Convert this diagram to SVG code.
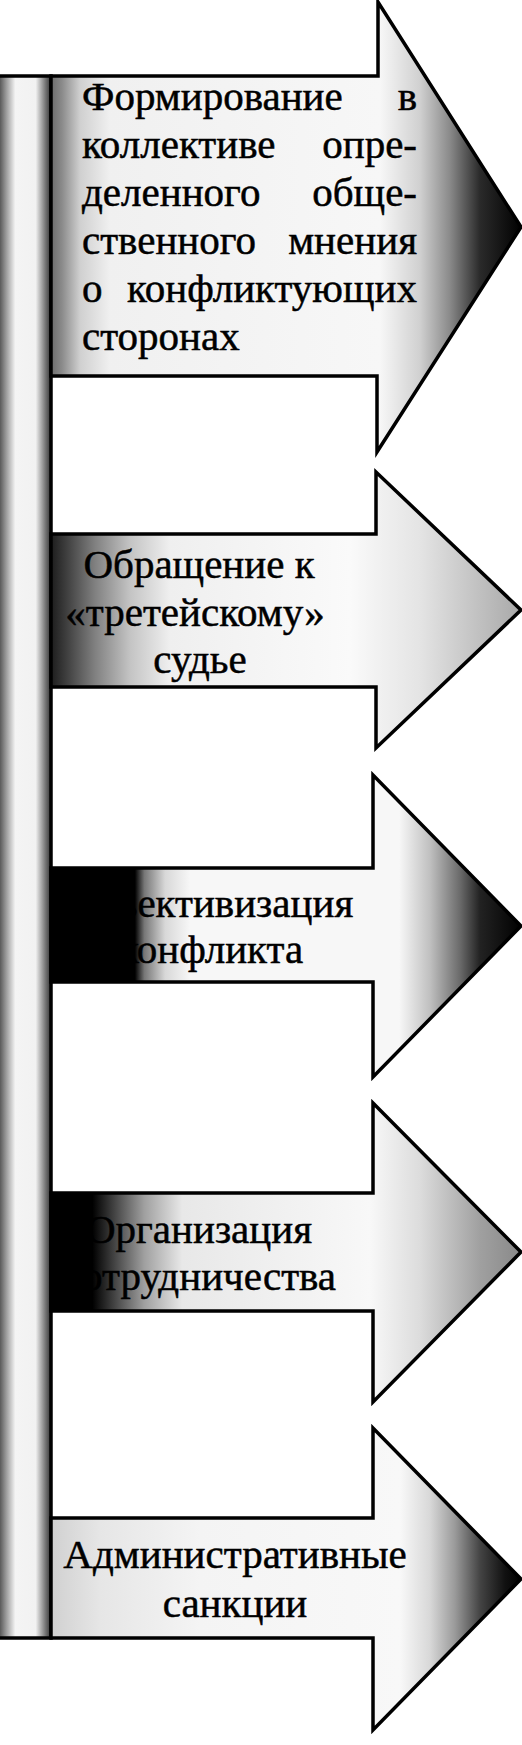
<svg xmlns="http://www.w3.org/2000/svg" width="522" height="1745" viewBox="0 0 522 1745">
<style>
.arrow{stroke:#000;stroke-width:3.5;stroke-linejoin:miter}
.bar{stroke:#000;stroke-width:3.5}
.t{font-family:"Liberation Serif","Times New Roman",serif;font-size:41px;fill:#000;stroke:#000;stroke-width:0.5}
.c{text-anchor:middle}
.e{text-anchor:end}
</style>
<defs>
<linearGradient id="gBar" gradientUnits="userSpaceOnUse" x1="0" y1="0" x2="51" y2="0">
<stop offset="0" stop-color="#5a5a5a"/><stop offset="0.12" stop-color="#9a9a9a"/><stop offset="0.3" stop-color="#f4f4f4"/><stop offset="0.7" stop-color="#f2f2f2"/><stop offset="0.8" stop-color="#b0b0b0"/><stop offset="0.9" stop-color="#707070"/><stop offset="1" stop-color="#333"/>
</linearGradient>
<linearGradient id="g1" gradientUnits="userSpaceOnUse" x1="50" y1="0" x2="522" y2="0">
<stop offset="0" stop-color="#6a6a6a"/><stop offset="0.025" stop-color="#8a8a8a"/><stop offset="0.064" stop-color="#d0d0d0"/><stop offset="0.127" stop-color="#f0f0f0"/><stop offset="0.699" stop-color="#f7f7f7"/><stop offset="0.784" stop-color="#d0d0d0"/><stop offset="0.847" stop-color="#8a8a8a"/><stop offset="0.911" stop-color="#2a2a2a"/><stop offset="1" stop-color="#000"/>
</linearGradient>
<linearGradient id="g2" gradientUnits="userSpaceOnUse" x1="50" y1="0" x2="522" y2="0">
<stop offset="0" stop-color="#1a1a1a"/><stop offset="0.04" stop-color="#444"/><stop offset="0.095" stop-color="#808080"/><stop offset="0.17" stop-color="#c4c4c4"/><stop offset="0.254" stop-color="#efefef"/><stop offset="0.636" stop-color="#fafafa"/><stop offset="0.784" stop-color="#e4e4e4"/><stop offset="0.911" stop-color="#c0c0c0"/><stop offset="1" stop-color="#a8a8a8"/>
</linearGradient>
<linearGradient id="g3" gradientUnits="userSpaceOnUse" x1="50" y1="0" x2="522" y2="0">
<stop offset="0" stop-color="#000"/><stop offset="0.18" stop-color="#000"/><stop offset="0.2" stop-color="#777"/><stop offset="0.244" stop-color="#d8d8d8"/><stop offset="0.297" stop-color="#f7f7f7"/><stop offset="0.74" stop-color="#f7f7f7"/><stop offset="0.805" stop-color="#c0c0c0"/><stop offset="0.869" stop-color="#6a6a6a"/><stop offset="0.911" stop-color="#222"/><stop offset="1" stop-color="#000"/>
</linearGradient>
<linearGradient id="g4" gradientUnits="userSpaceOnUse" x1="50" y1="0" x2="522" y2="0">
<stop offset="0" stop-color="#000"/><stop offset="0.09" stop-color="#000"/><stop offset="0.13" stop-color="#3a3a3a"/><stop offset="0.2" stop-color="#a0a0a0"/><stop offset="0.28" stop-color="#e8e8e8"/><stop offset="0.678" stop-color="#f8f8f8"/><stop offset="0.784" stop-color="#dcdcdc"/><stop offset="0.911" stop-color="#a0a0a0"/><stop offset="1" stop-color="#888"/>
</linearGradient>
<linearGradient id="g5" gradientUnits="userSpaceOnUse" x1="50" y1="0" x2="522" y2="0">
<stop offset="0" stop-color="#d0d0d0"/><stop offset="0.106" stop-color="#e6e6e6"/><stop offset="0.318" stop-color="#f4f4f4"/><stop offset="0.742" stop-color="#f8f8f8"/><stop offset="0.805" stop-color="#d8d8d8"/><stop offset="0.858" stop-color="#9a9a9a"/><stop offset="0.911" stop-color="#444"/><stop offset="0.964" stop-color="#111"/><stop offset="1" stop-color="#000"/>
</linearGradient>
</defs>
<rect x="0" y="0" width="522" height="1745" fill="#fff"/>
<g id="bar">
<rect class="bar" x="-4" y="76" width="55" height="1562" fill="url(#gBar)"/>
</g>
<g id="node1">
<polygon class="arrow" fill="url(#g1)" points="51,76 378,76 378,2 521,227 377,452 377,376 51,376"/>
<text class="t" x="82" y="110">Формирование</text><text class="t e" x="417" y="110">в</text>
<text class="t" x="82" y="158">коллективе</text><text class="t e" x="417" y="158">опре-</text>
<text class="t" x="82" y="206">деленного</text><text class="t e" x="417" y="206">обще-</text>
<text class="t" x="82" y="254">ственного</text><text class="t e" x="417" y="254">мнения</text>
<text class="t" x="82" y="302">о</text><text class="t e" x="417" y="302">конфликтующих</text>
<text class="t" x="82" y="350">сторонах</text>
</g>
<g id="node2">
<polygon class="arrow" fill="url(#g2)" points="51,534 376,534 376,472 521,610 376,748 376,687 51,687"/>
<text class="t c" x="199" y="578">Обращение к</text>
<text class="t c" x="195" y="626">«третейскому»</text>
<text class="t c" x="200" y="673">судье</text>
</g>
<g id="node3">
<polygon class="arrow" fill="url(#g3)" points="51,868 373,868 373,775 521,926 373,1077 373,982 51,982"/>
<text class="t c" x="210" y="917">Объективизация</text>
<text class="t c" x="211" y="963">конфликта</text>
</g>
<g id="node4">
<polygon class="arrow" fill="url(#g4)" points="51,1193 373,1193 373,1103 521,1252 373,1402 373,1311 51,1311"/>
<text class="t c" x="199" y="1243">Организация</text>
<text class="t c" x="200" y="1290">сотрудничества</text>
</g>
<g id="node5">
<polygon class="arrow" fill="url(#g5)" points="51,1518 373,1518 373,1428 521,1579 373,1730 373,1638 51,1638"/>
<text class="t c" x="235" y="1568">Административные</text>
<text class="t c" x="235" y="1617">санкции</text>
</g>
<g id="connectors"/>
</svg>
